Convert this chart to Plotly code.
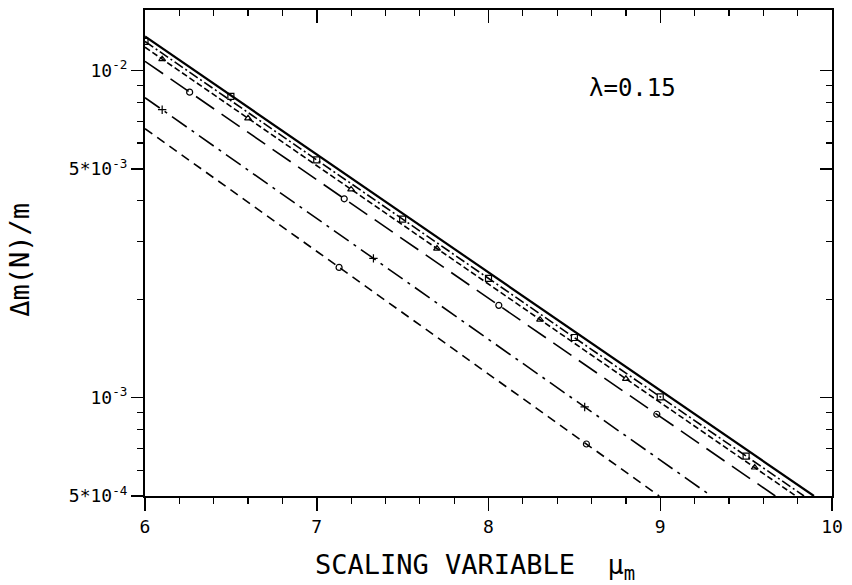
import plotly.graph_objects as go

# ---------------- data ----------------
x_A = [6.0, 7.0, 8.0, 9.0, 9.895]
y_A = [0.01271, 0.005537, 0.002413, 0.001051, 0.000500]

x_B = [6.0, 7.0, 8.0, 9.0, 9.837]
y_B = [0.01227, 0.005328, 0.002315, 0.001005, 0.000500]

x_C = [6.0, 7.0, 8.0, 9.0, 9.79]
y_C = [0.01178, 0.005117, 0.002223, 0.000966, 0.000500]

x_D = [6.0, 7.0, 8.0, 9.0, 9.67]
y_D = [0.01067, 0.004634, 0.002012, 0.000874, 0.000500]

x_E = [6.0, 7.0, 8.0, 9.0, 9.297]
y_E = [0.00826, 0.003529, 0.001507, 0.000644, 0.000500]

x_F = [6.0, 7.0, 8.0, 8.994]
y_F = [0.00664, 0.002798, 0.001179, 0.000500]

# marker points
mx_B = [6.0, 6.5, 7.0, 7.5, 8.0, 8.5, 9.0, 9.5]
my_B = [0.01227, 0.008337, 0.005328, 0.003512, 0.002315, 0.001526, 0.001005, 0.000662]

mx_C = [6.1, 6.6, 7.2, 7.7, 8.3, 8.8, 9.55]
my_C = [0.01083, 0.007142, 0.004330, 0.002855, 0.001731, 0.001141, 0.000611]

mx_D = [6.26, 7.16, 8.06, 8.98]
my_D = [0.008586, 0.004053, 0.001914, 0.000889]

mx_E = [6.1, 7.33, 8.56]
my_E = [0.007588, 0.002665, 0.000936]

mx_F = [7.13, 8.57]
my_F = [0.002500, 0.000721]

x_tickvals = [6, 7, 8, 9, 10]
y_tickvals = [5e-4, 1e-3, 5e-3, 1e-2]
y_ticktext = ["5*10<sup>-4</sup>", "10<sup>-3</sup>", "5*10<sup>-3</sup>", "10<sup>-2</sup>"]
y_minorvals = [6e-4, 7e-4, 8e-4, 9e-4, 2e-3, 3e-3, 4e-3, 6e-3, 7e-3, 8e-3, 9e-3]

x_title = "SCALING VARIABLE  μ<sub>m</sub>"
y_title = "Δm(N)/m"
lambda_label = "λ=0.15"

# ---------------- figure ----------------
FONT = "DejaVu Sans Mono"
fig = go.Figure()

series = [
    (x_A, y_A, "solid", 2.2),
    (x_B, y_B, "10px,3px,2px,3px", 1.6),
    (x_C, y_C, "6px,3px", 1.6),
    (x_D, y_D, "22px,9px", 1.6),
    (x_E, y_E, "18px,6px,3px,6px", 1.6),
    (x_F, y_F, "9px,6px", 1.6),
]
for xs, ys, dash, w in series:
    fig.add_trace(go.Scatter(x=xs, y=ys, mode="lines",
                             line=dict(color="black", width=w, dash=dash),
                             showlegend=False, hoverinfo="skip"))

markers = [
    (mx_B, my_B, "square-open"),
    (mx_C, my_C, "triangle-up-open"),
    (mx_D, my_D, "circle-open"),
    (mx_E, my_E, "cross-thin-open"),
    (mx_F, my_F, "circle-open"),
]
for xs, ys, sym in markers:
    fig.add_trace(go.Scatter(x=xs, y=ys, mode="markers",
                             marker=dict(symbol=sym, size=6, color="black",
                                         line=dict(color="black", width=1.2)),
                             showlegend=False, hoverinfo="skip"))

# dummy trace to bring up the mirrored (inside-tick) axes
fig.add_trace(go.Scatter(x=[None], y=[None], xaxis="x2", yaxis="y2",
                         showlegend=False, hoverinfo="skip"))

yr = [-3.30103, -1.815]
xr = [6, 10]

common_x = dict(range=xr, showgrid=False, zeroline=False, showline=True,
                linecolor="black", linewidth=2, tickcolor="black", tickwidth=1.5,
                ticklen=13,
                minor=dict(ticks="", dtick=0.2, tick0=6, ticklen=6,
                           tickcolor="black", tickwidth=1.2, showgrid=False))
common_y = dict(type="log", range=yr, showgrid=False, zeroline=False, showline=True,
                linecolor="black", linewidth=2, tickcolor="black", tickwidth=1.5,
                ticklen=12,
                minor=dict(ticks="", tickmode="array", tickvals=y_minorvals, ticklen=6,
                           tickcolor="black", tickwidth=1.2, showgrid=False))

xa = dict(common_x)
xa.update(ticks="outside", tickmode="array", tickvals=x_tickvals,
          ticktext=[str(v) for v in x_tickvals],
          tickfont=dict(family=FONT, size=18, color="black"))
xa["minor"] = dict(common_x["minor"], ticks="outside")

xa2 = dict(common_x)
xa2.update(overlaying="x", side="top", anchor="y", ticks="inside",
           tickmode="array", tickvals=x_tickvals, showticklabels=False)
xa2["minor"] = dict(common_x["minor"], ticks="inside")

ya = dict(common_y)
ya.update(ticks="outside", tickmode="array", tickvals=y_tickvals, ticktext=y_ticktext,
          tickfont=dict(family=FONT, size=18, color="black"))
ya["minor"] = dict(common_y["minor"], ticks="outside")

ya2 = dict(common_y)
ya2.update(overlaying="y", side="right", anchor="x", ticks="inside",
           tickmode="array", tickvals=y_tickvals, showticklabels=False)
ya2["minor"] = dict(common_y["minor"], ticks="inside")

fig.update_layout(
    width=852, height=585,
    margin=dict(l=145, r=20, t=10, b=89),
    paper_bgcolor="white", plot_bgcolor="white",
    xaxis=xa, xaxis2=xa2, yaxis=ya, yaxis2=ya2,
    font=dict(family=FONT, color="black"),
    annotations=[
        dict(text=x_title, xref="paper", yref="paper", x=0.2445, y=-0.146,
             xanchor="left", yanchor="middle", showarrow=False,
             font=dict(family=FONT, size=27, color="black")),
        dict(text=y_title, xref="paper", yref="paper", x=-0.182, y=0.486,
             xanchor="center", yanchor="middle", textangle=-90, showarrow=False,
             font=dict(family=FONT, size=27, color="black")),
        dict(text=lambda_label, xref="paper", yref="paper", x=0.643, y=0.8395,
             xanchor="left", yanchor="middle", showarrow=False,
             font=dict(family=FONT, size=24, color="black")),
    ],
)

fig.write_html("out.html",
               config={"displayModeBar": False, "staticPlot": True},
               post_script="document.body.style.margin='0';document.body.style.overflow='hidden';")
